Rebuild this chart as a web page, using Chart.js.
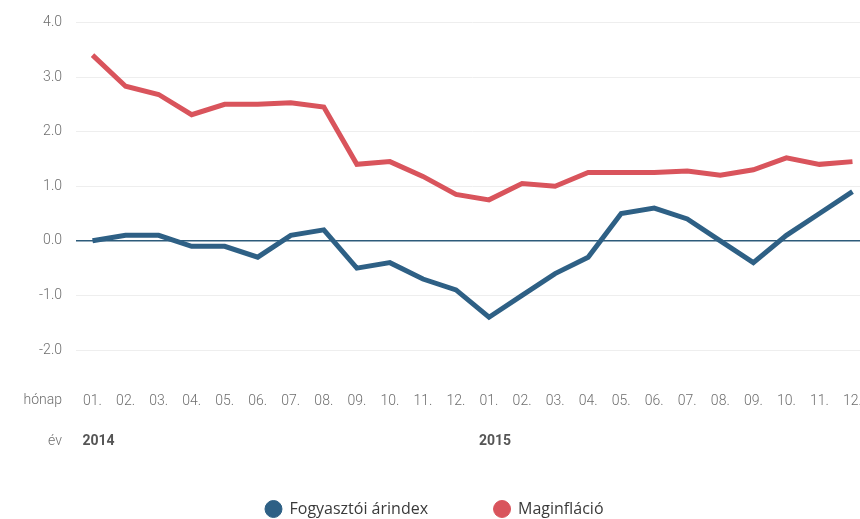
<!DOCTYPE html>
<html>
<head>
<meta charset="utf-8">
<script src="https://cdn.jsdelivr.net/npm/chart.js@4/dist/chart.umd.min.js"></script>
<style>
  html, body { margin: 0; padding: 0; background: #fff; overflow: hidden; }
  /* the plot runs a few pixels past the right edge of the window */
  #wrap { width: 869px; height: 519px; }
</style>
</head>
<body>
<div id="wrap"><canvas id="chart"></canvas></div>
<script>
const months = ['01.', '02.', '03.', '04.', '05.', '06.', '07.', '08.', '09.', '10.', '11.', '12.',
                '01.', '02.', '03.', '04.', '05.', '06.', '07.', '08.', '09.', '10.', '11.', '12.'];
const years = ['2014', '', '', '', '', '', '', '', '', '', '', '',
               '2015', '', '', '', '', '', '', '', '', '', '', ''];
const cpi = [0.0, 0.1, 0.1, -0.1, -0.1, -0.3, 0.1, 0.2, -0.5, -0.4, -0.7, -0.9,
             -1.4, -1.0, -0.6, -0.3, 0.5, 0.6, 0.4, 0.0, -0.4, 0.1, 0.5, 0.9];
const coreInflation = [3.4, 2.83, 2.68, 2.31, 2.5, 2.5, 2.53, 2.45, 1.4, 1.45, 1.18, 0.85,
                       0.75, 1.05, 1.0, 1.25, 1.25, 1.25, 1.28, 1.2, 1.3, 1.52, 1.4, 1.45];

const BLUE = '#2e6085';
const RED = '#d9545c';
const GREY = '#6e6e6e';

// row captions plus the year row, placed under the month ticks
const rowCaptions = {
    id: 'rowCaptions',
    afterDraw(chart) {
        const { ctx, chartArea, scales } = chart;
        const x = scales.x;
        const monthTop = x.top + 43;
        const yearTop = x.top + 84;
        ctx.save();
        ctx.font = '300 14px Roboto';
        ctx.fillStyle = GREY;
        ctx.textAlign = 'right';
        ctx.textBaseline = 'top';
        ctx.fillText('hónap', chartArea.left - 14, monthTop);
        ctx.fillText('év', chartArea.left - 14, yearTop);
        ctx.font = 'bold 14px Roboto';
        ctx.fillStyle = '#555';
        ctx.textAlign = 'left';
        years.forEach((y, i) => {
            if (y) ctx.fillText(y, x.getPixelForTick(i) - 10, yearTop);
        });
        ctx.restore();
    }
};

new Chart(document.getElementById('chart'), {
    type: 'line',
    data: {
        labels: months,
        datasets: [
            { label: 'Fogyasztói árindex', data: cpi, borderColor: BLUE, backgroundColor: BLUE },
            { label: 'Maginfláció', data: coreInflation, borderColor: RED, backgroundColor: RED }
        ]
    },
    options: {
        responsive: true,
        maintainAspectRatio: false,
        animation: false,
        layout: { padding: { top: 22, right: 0, left: 0, bottom: -8 } },
        elements: {
            line: { borderWidth: 5, tension: 0 },
            point: { radius: 0, hoverRadius: 0 }
        },
        plugins: {
            tooltip: { enabled: false },
            legend: {
                position: 'bottom',
                labels: {
                    usePointStyle: true,
                    pointStyle: 'circle',
                    boxWidth: 24,
                    boxHeight: 12,
                    padding: 66,
                    color: '#3a3a3a',
                    font: { family: 'Open Sans', size: 16 }
                }
            }
        },
        scales: {
            x: {
                offset: true,
                // invisible tick marks push the month row down without side padding
                grid: {
                    display: true,
                    drawOnChartArea: false,
                    drawTicks: true,
                    tickLength: 43,
                    color: 'rgba(0,0,0,0)'
                },
                border: { display: false },
                afterFit: s => { s.height = 85; },
                ticks: {
                    autoSkip: false,
                    maxRotation: 0,
                    padding: 0,
                    color: GREY,
                    font: { family: 'Roboto', size: 14, weight: 300 }
                }
            },
            y: {
                min: -2,
                max: 4,
                afterFit: s => { s.width = 76; },
                border: { display: false },
                grid: {
                    drawTicks: false,
                    color: c => c.tick.value === 0 ? '#2d5b7a' : '#eeeeee',
                    lineWidth: c => c.tick.value === 0 ? 1.5 : 1
                },
                ticks: {
                    stepSize: 1,
                    padding: 14,
                    color: GREY,
                    font: { family: 'Roboto', size: 14, weight: 300 },
                    callback: v => v.toFixed(1)
                }
            }
        }
    },
    plugins: [rowCaptions]
});
</script>
</body>
</html>
